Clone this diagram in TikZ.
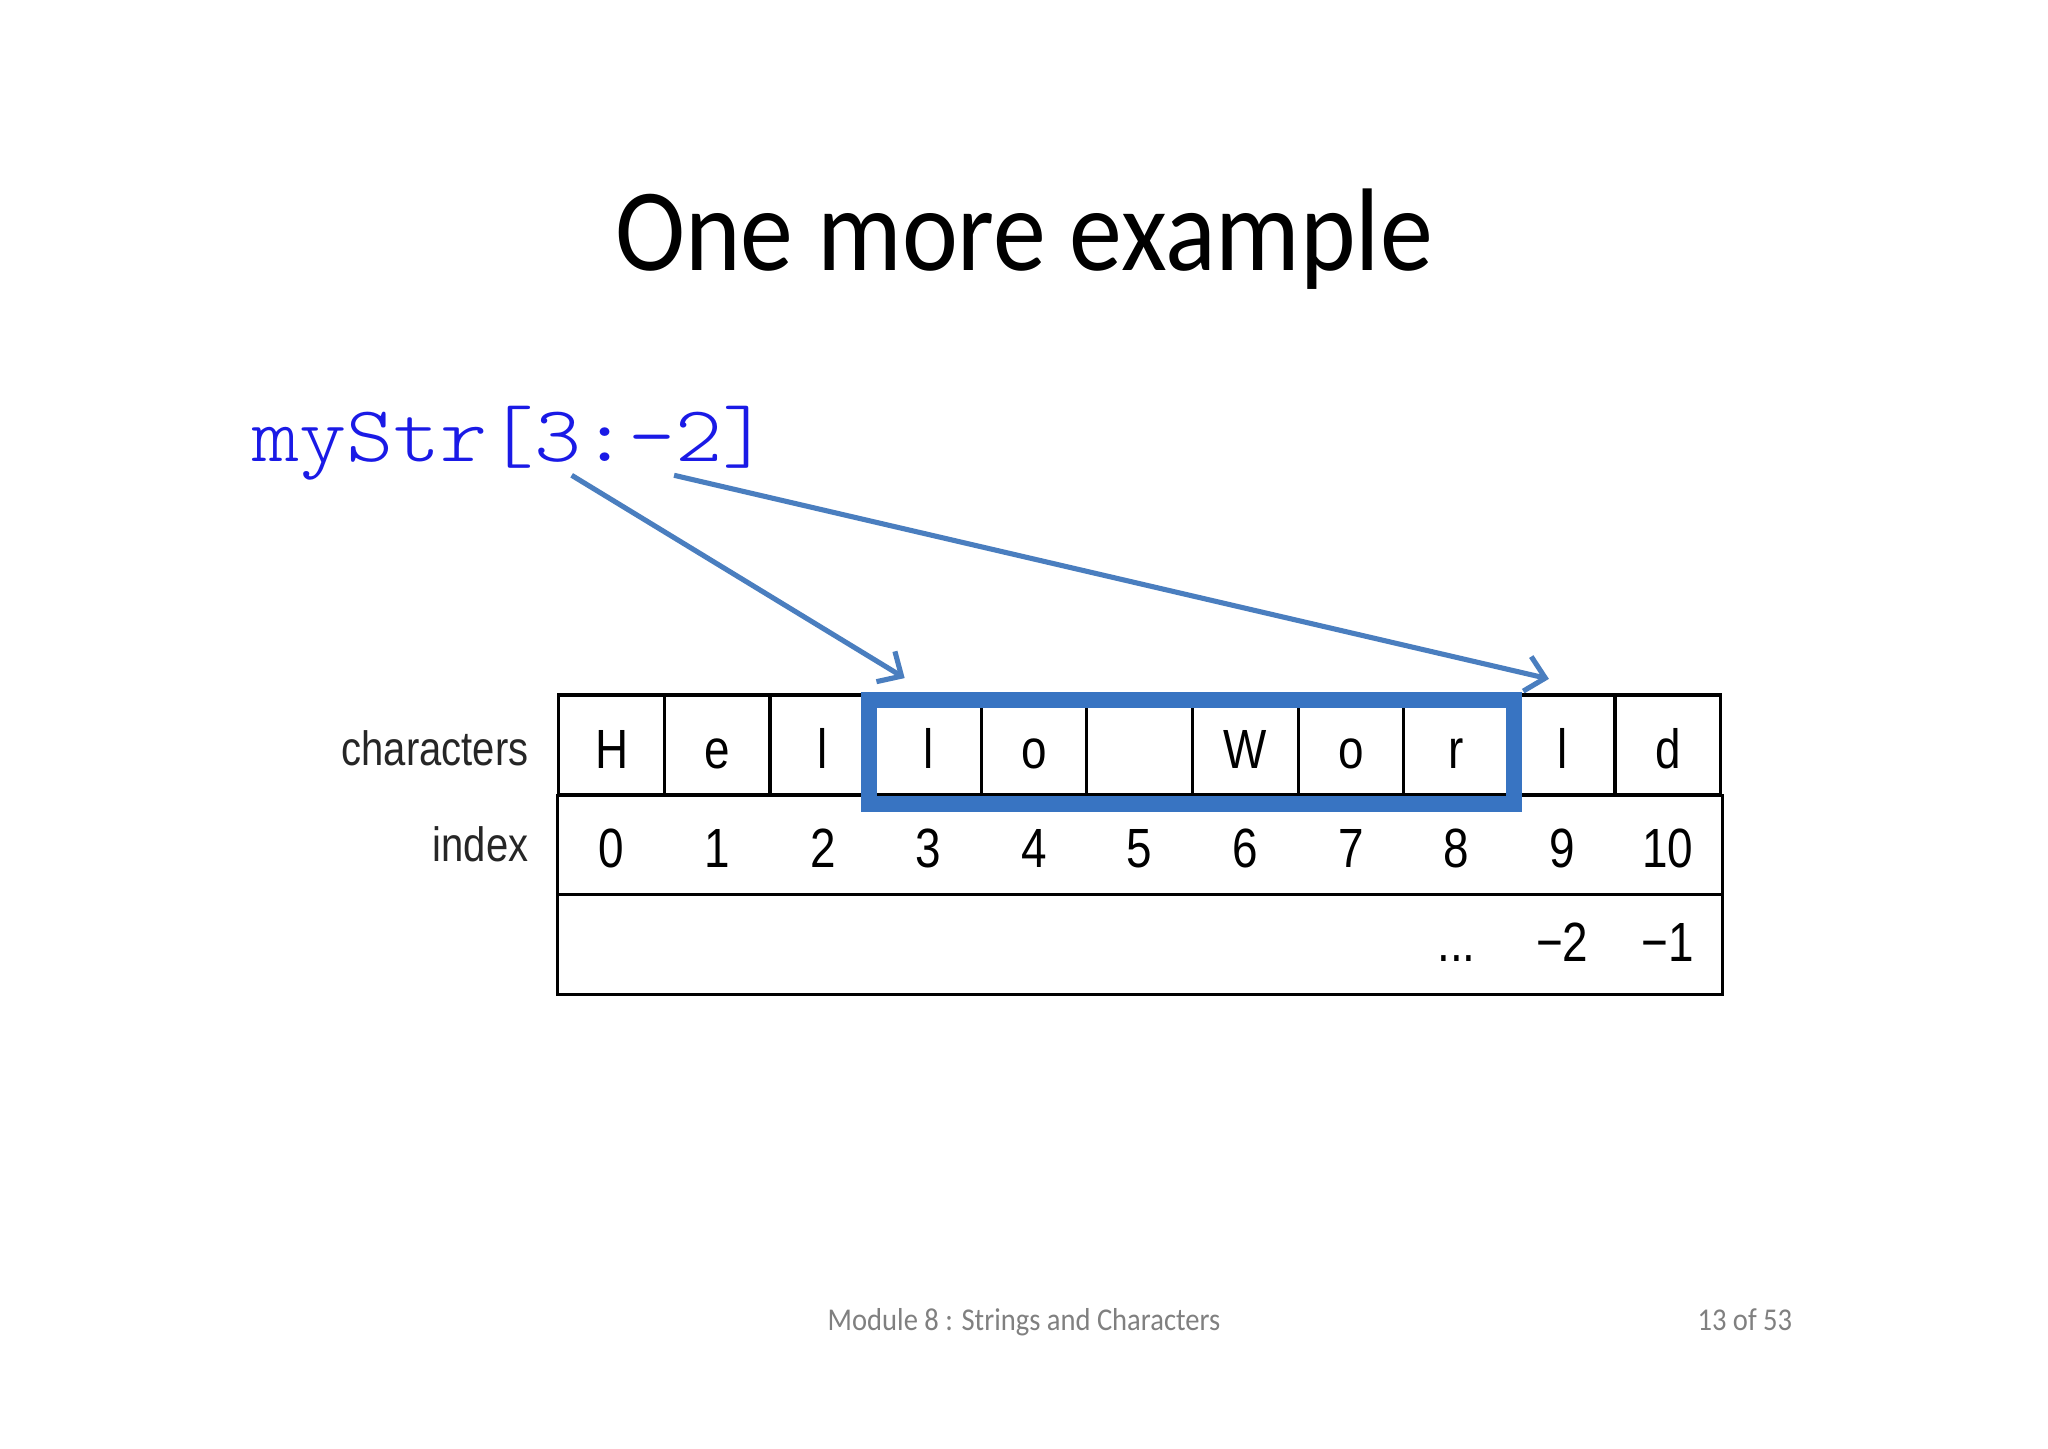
\documentclass[tikz,border=0pt]{standalone}
\usepackage{fontspec}
\setmainfont{Carlito}
\newfontfamily\slidefont[FakeStretch=0.9]{Carlito}
\newfontfamily\figfont[FakeStretch=0.83]{Liberation Sans}
\newfontfamily\codefont[FakeStretch=1.13]{lmmonolt10-regular.otf}
\usetikzlibrary{arrows.meta, positioning, calc}
\definecolor{codeblue}{HTML}{1A1AE6}
\definecolor{arrowblue}{HTML}{4A7EBF}
\definecolor{slicebox}{HTML}{3874C2}
\definecolor{footgray}{HTML}{808080}

\begin{document}
\begin{tikzpicture}[
  >={Straight Barb[length=2.3mm, width=4.4mm]},
  cell/.style={draw=black, line width=1.1pt, minimum width=1.31cm, minimum height=1.23cm, inner sep=0pt, text height=0.59cm, text depth=0pt, font=\figfont\fontsize{19.5}{20}\selectfont},
  idx/.style={inner sep=0pt, anchor=base, font=\figfont\fontsize{19.5}{20}\selectfont},
  rowlabel/.style={anchor=base east, inner sep=0pt, font=\figfont\fontsize{17}{18}\selectfont, text=black!85},
  pointer/.style={arrowblue, line width=1.8pt, ->},
  footer/.style={anchor=base, font=\slidefont\fontsize{11.2}{13}\selectfont, text=footgray},
]

% Background
\fill[white] (0,0) rectangle (25.4,17.96);

% Title
\node[anchor=base, font=\slidefont\fontsize{41.5}{46}\selectfont] (title) at (12.7,14.61) {One more example};

% Slice expression
\node[anchor=base west, inner sep=0pt, font=\codefont\fontsize{28}{30}\selectfont, text=codeblue] (expr) at (3.12,12.23) {myStr[3:-2]};

% Characters row
\foreach \ch [count=\i from 0] in {H,e,l,l,o,{},W,o,r,l,d} {
  \node[cell] (c\i) at (6.93+1.31*\i+0.655, 8.725) {\ch};
}

% Index rows
\coordinate (tblbot) at ($(c10.south east)+(0,-2.46)$);
\draw[line width=1.1pt] (c0.south west) rectangle (tblbot);
\draw[line width=1.1pt] ($(c0.south west)+(0,-1.23)$) -- ($(c10.south east)+(0,-1.23)$);
\foreach \i in {0,...,10} {
  \node[idx] (n\i) at ($(c\i.center)+(0,-1.525)$) {\i};
}
\node[idx] (dots) at ($(c8.center)+(0,-2.695)$) {...};
\node[idx] (m2) at ($(c9.center)+(0,-2.695)$) {−2};
\node[idx] (m1) at ($(c10.center)+(0,-2.695)$) {−1};

% Row labels
\node[rowlabel] (lchar) at (6.56,8.47) {characters};
\node[rowlabel] (lidx) at (6.56,7.27) {index};

% Slice box
\draw[slicebox, line width=5.8pt] ($(c3.north west)+(-0.06,-0.083)$) rectangle ($(c8.south east)+(0.04,-0.10)$);

% Pointers
\coordinate (from3) at (7.09,12.065);
\coordinate (from2) at (8.36,12.065);
\coordinate (to3) at (11.22,9.55);
\coordinate (to2) at (19.21,9.54);
\draw[pointer] (from3) -- (to3);
\draw[pointer] (from2) -- (to2);

% Footer
\node[footer] (foot) at (12.7,1.46) {Module 8 : Strings and Characters};
\node[footer] (page) at (21.64,1.46) {13 of 53};

\end{tikzpicture}
\end{document}
